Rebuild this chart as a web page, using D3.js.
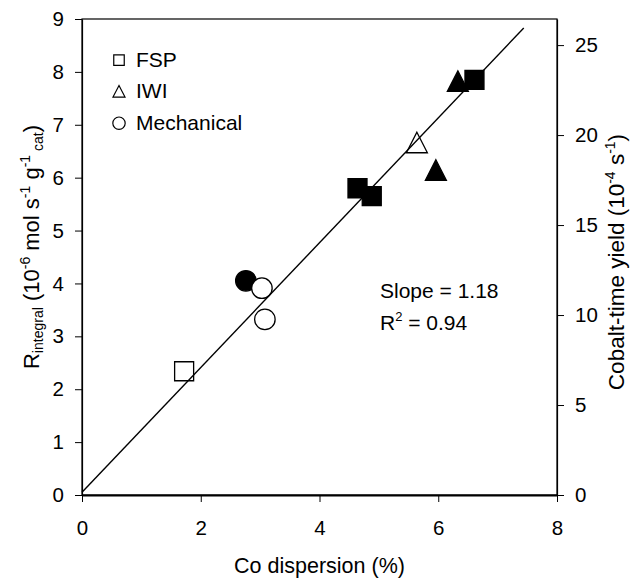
<!DOCTYPE html>
<html>
<head>
<meta charset="utf-8">
<script src="https://cdn.jsdelivr.net/npm/d3@7"></script>
<style>
  html, body { margin: 0; padding: 0; background: #fff; }
  svg { display: block; font-family: "Liberation Sans", Arial, sans-serif; }
</style>
</head>
<body>
<svg id="chart" width="634" height="578"></svg>
<script>
// Co dispersion (%) vs integral rate, grouped by preparation method
const fspOpen = [{x: 1.72, y: 2.34}];
const fspFilled = [{x: 4.64, y: 5.80}, {x: 4.88, y: 5.65}, {x: 6.61, y: 7.85}];
const iwiOpen = [{x: 5.64, y: 6.60}];
const iwiFilled = [{x: 6.33, y: 7.76}, {x: 5.96, y: 6.08}];
const mechFilled = [{x: 2.76, y: 4.05}];
const mechOpen = [{x: 3.03, y: 3.91}, {x: 3.08, y: 3.32}];

// Linear fit
const fitSlope = 1.18;
const fitIntercept = 0.05;
const fitRange = [0, 7.44];

const xTicks = [0, 2, 4, 6, 8];
const yTicks = [0, 1, 2, 3, 4, 5, 6, 7, 8, 9];
const yRightTicks = [0, 5, 10, 15, 20, 25];

const legendItems = [
  {label: "FSP", shape: "square"},
  {label: "IWI", shape: "triangle"},
  {label: "Mechanical", shape: "circle"}
];

const svg = d3.select("#chart");
const plotL = 82, plotR = 557, plotT = 19, plotB = 495;

const x = d3.scaleLinear().domain([0, 8]).range([plotL, plotR]);
const y = d3.scaleLinear().domain([0, 9]).range([plotB, plotT]);
const yR = d3.scaleLinear().domain([0, 26.45]).range([plotB, plotT]);

const tickFont = 20.5;
const textFont = 21;
const titleFont = 22;
const smallFont = 13;
const titleSmall = 14;

// Frame
svg.append("rect")
  .attr("x", plotL).attr("y", plotT)
  .attr("width", plotR - plotL).attr("height", plotB - plotT)
  .attr("fill", "none").attr("stroke", "#000").attr("stroke-width", 1.2);

function styleAxis(g) {
  g.select(".domain").attr("stroke", "#000").attr("stroke-width", 1.2);
  g.selectAll(".tick line").attr("stroke", "#000").attr("stroke-width", 1);
  g.selectAll(".tick text").attr("font-size", tickFont).attr("fill", "#000")
    .attr("font-family", "Liberation Sans, Arial, sans-serif");
}

svg.append("g")
  .attr("transform", `translate(0,${plotB})`)
  .call(d3.axisBottom(x).tickValues(xTicks).tickFormat(d3.format("d"))
    .tickSize(7).tickPadding(18).tickSizeOuter(0))
  .call(styleAxis)
  .call(g => g.select(".domain").attr("stroke-width", 2));

svg.append("g")
  .attr("transform", `translate(${plotL},0)`)
  .call(d3.axisLeft(y).tickValues(yTicks).tickFormat(d3.format("d"))
    .tickSize(7).tickPadding(11).tickSizeOuter(0))
  .call(styleAxis);

svg.append("g")
  .attr("transform", `translate(${plotR},0)`)
  .call(d3.axisRight(yR).tickValues(yRightTicks).tickFormat(d3.format("d"))
    .tickSize(7).tickPadding(11).tickSizeOuter(0))
  .call(styleAxis);

// Upward triangle centred on its centroid
function triangleType(w, h) {
  return {
    draw(ctx) {
      ctx.moveTo(0, -2 * h / 3);
      ctx.lineTo(w / 2, h / 3);
      ctx.lineTo(-w / 2, h / 3);
      ctx.closePath();
    }
  };
}

// Markers
const symSquare = d3.symbol().type(d3.symbolSquare).size(361);
const symCircle = d3.symbol().type(d3.symbolCircle).size(330);
const symTriangle = d3.symbol().type(triangleType(21, 20.5));

function plot(data, sym, filled) {
  svg.append("g").selectAll("path")
    .data(data).join("path")
    .attr("transform", d => `translate(${x(d.x)},${y(d.y)})`)
    .attr("d", sym)
    .attr("fill", filled ? "#000" : "#fff")
    .attr("stroke", "#000")
    .attr("stroke-width", 1.3);
}

plot(fspOpen, symSquare, false);
plot(fspFilled, symSquare, true);
plot(iwiOpen, symTriangle, false);
plot(iwiFilled, symTriangle, true);
plot(mechFilled, symCircle, true);
plot(mechOpen, symCircle, false);

// Fit line
const fitLine = d3.line().x(d => x(d)).y(d => y(fitSlope * d + fitIntercept));
svg.append("path")
  .datum(fitRange)
  .attr("d", fitLine)
  .attr("fill", "none")
  .attr("stroke", "#000")
  .attr("stroke-width", 1.4);

// Legend
const legendSym = {
  square: d3.symbol().type(d3.symbolSquare).size(110),
  triangle: d3.symbol().type(triangleType(12, 11.5)),
  circle: d3.symbol().type(d3.symbolCircle).size(120)
};
const legend = svg.append("g");
legendItems.forEach((item, i) => {
  const base = 66.7 + i * 31.5;
  const cy = base - 6.5 + (item.shape === "triangle" ? 1.5 : 0);
  legend.append("path")
    .attr("transform", `translate(119,${cy})`)
    .attr("d", legendSym[item.shape])
    .attr("fill", "#fff").attr("stroke", "#000").attr("stroke-width", 1.2);
  legend.append("text")
    .attr("x", 136).attr("y", base)
    .attr("font-size", textFont)
    .text(item.label);
});

// Fit annotation
svg.append("text").attr("x", 380).attr("y", 298).attr("font-size", textFont)
  .text(`Slope = ${fitSlope.toFixed(2)}`);
const r2 = svg.append("text").attr("x", 380).attr("y", 330).attr("font-size", textFont);
r2.append("tspan").text("R");
r2.append("tspan").attr("font-size", smallFont).attr("dy", -9).text("2");
r2.append("tspan").attr("dy", 9).text(" = 0.94");

// X axis title
svg.append("text")
  .attr("x", (plotL + plotR) / 2).attr("y", 573)
  .attr("text-anchor", "middle").attr("font-size", titleFont - 0.5)
  .text("Co dispersion (%)");

// Left axis title
const yl = svg.append("text")
  .attr("transform", `translate(39,${247}) rotate(-90)`)
  .attr("text-anchor", "middle").attr("font-size", titleFont);
yl.append("tspan").text("R");
yl.append("tspan").attr("font-size", titleSmall).attr("dy", 4).text("integral");
yl.append("tspan").attr("dy", -4).text(" (10");
yl.append("tspan").attr("font-size", titleSmall).attr("dy", -9).text("-6");
yl.append("tspan").attr("dy", 9).text(" mol s");
yl.append("tspan").attr("font-size", titleSmall).attr("dy", -9).text("-1");
yl.append("tspan").attr("dy", 9).text(" g");
yl.append("tspan").attr("font-size", titleSmall).attr("dy", -9).text("-1");
yl.append("tspan").attr("font-size", titleSmall).attr("dy", 13).text(" cat");
yl.append("tspan").attr("dy", -4).text(")");

// Right axis title
const yr = svg.append("text")
  .attr("transform", `translate(624,${262}) rotate(-90)`)
  .attr("text-anchor", "middle").attr("font-size", titleFont + 0.5);
yr.append("tspan").text("Cobalt-time yield (10");
yr.append("tspan").attr("font-size", titleSmall).attr("dy", -9).text("-4");
yr.append("tspan").attr("dy", 9).text(" s");
yr.append("tspan").attr("font-size", titleSmall).attr("dy", -9).text("-1");
yr.append("tspan").attr("dy", 9).text(")");
</script>
</body>
</html>
